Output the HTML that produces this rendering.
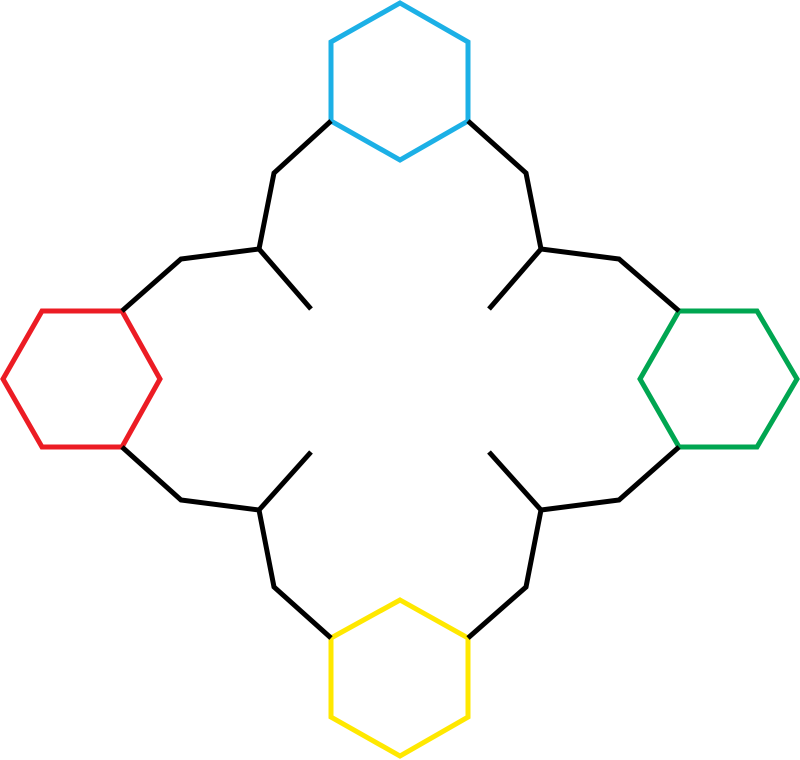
<!DOCTYPE html>
<html>
<head>
<meta charset="utf-8">
<style>
html,body{margin:0;padding:0;background:#fff;width:800px;height:760px;overflow:hidden;}
svg{display:block;}
</style>
</head>
<body>
<svg width="800" height="760" viewBox="0 0 800 760">
  <g fill="none" stroke-width="5" stroke-linejoin="miter" stroke-linecap="butt">
    <polygon stroke="#1cb0e6" points="400,3 468,42 468,121 400,160 331,121 331,42"/>
    <polygon stroke="#ffe800" points="400,600 468,638 468,717 400,756 331,717 331,638"/>
    <polygon stroke="#ec1c24" points="42,311 122,311 160,379 122,447 42,447 3,379"/>
    <polygon stroke="#00a651" points="679,311 757,311 797,379 757,447 679,447 640,379"/>
    <g stroke="#000">
      <polyline points="331,121 274,173 259,249 181,259 122,311"/>
      <line x1="259" y1="249" x2="311" y2="309"/>
      <polyline points="468,121 526,173 541,249 619,259 679,311"/>
      <line x1="541" y1="249" x2="489" y2="309"/>
      <polyline points="122,447 181,500 259,510 274,587 331,638"/>
      <line x1="259" y1="510" x2="311" y2="452"/>
      <polyline points="679,447 619,500 541,510 526,587 468,638"/>
      <line x1="541" y1="510" x2="489" y2="452"/>
    </g>
  </g>
</svg>
</body>
</html>
